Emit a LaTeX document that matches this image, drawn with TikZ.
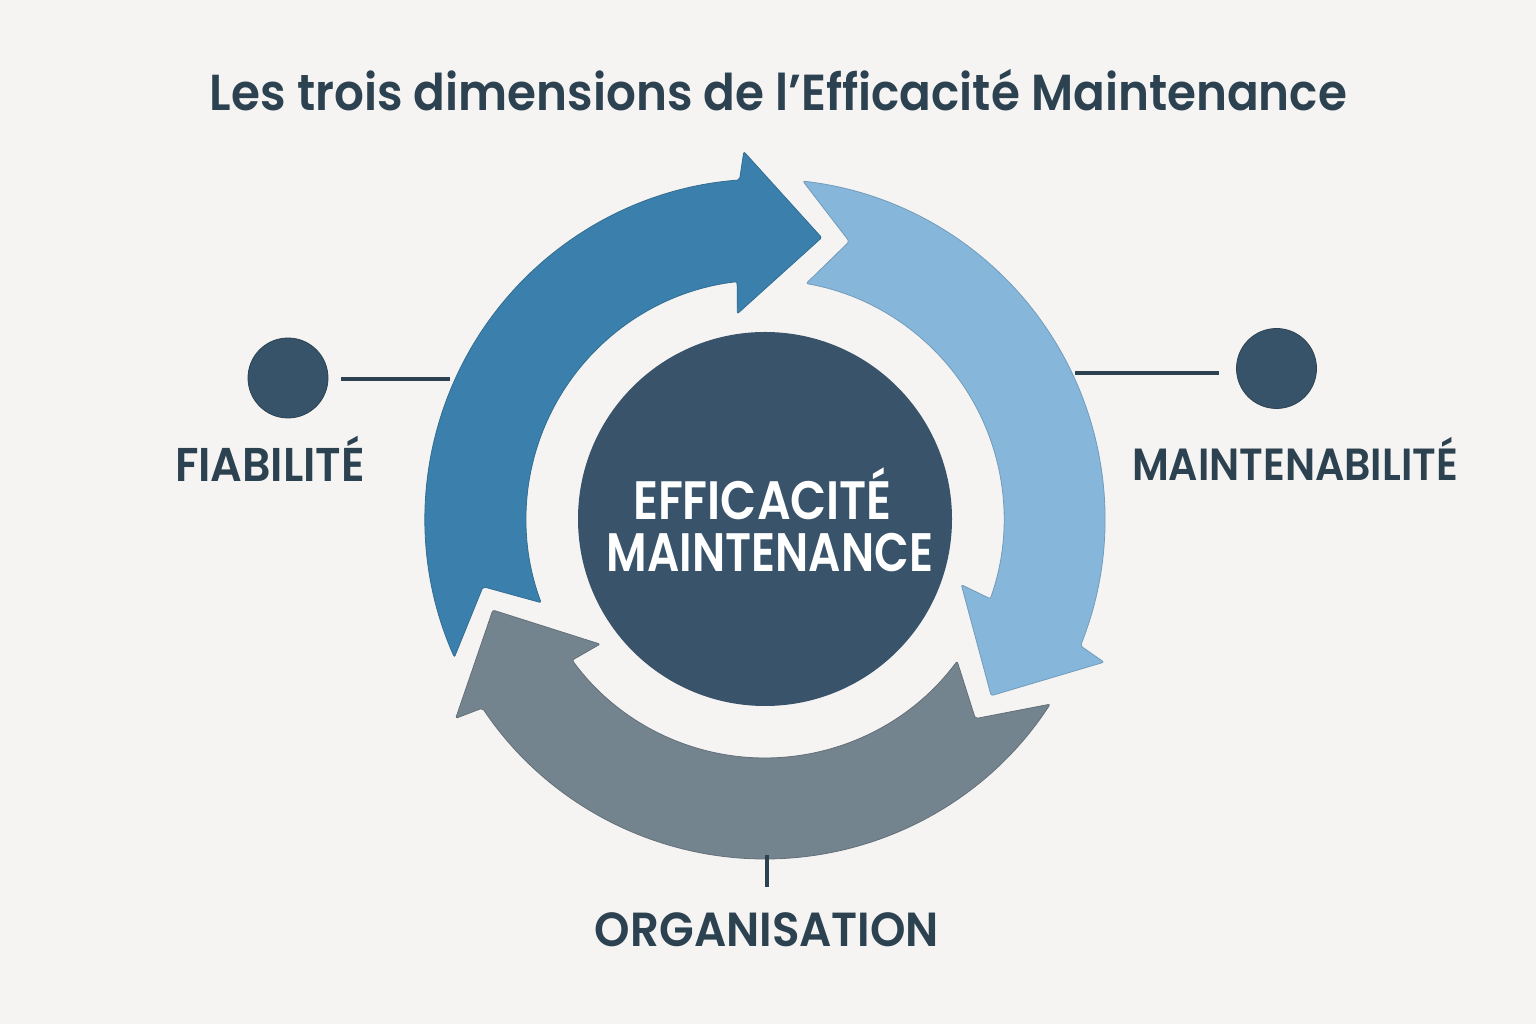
\documentclass[tikz,border=0pt]{standalone}
\usepackage{fontspec}
\setmainfont{Poppins}[UprightFont=* Medium, BoldFont=* SemiBold]
\usepackage{graphicx}
\definecolor{bgC}{HTML}{F5F4F2}
\definecolor{darkC}{HTML}{2C4251}
\definecolor{coreC}{HTML}{38536A}
\definecolor{blueC}{HTML}{3B80AC}
\definecolor{lightC}{HTML}{86B7DB}
\definecolor{grayC}{HTML}{74848F}
\definecolor{dotC}{HTML}{36536A}
% #1 width, #2 vertical stretch, #3 text
\newcommand\fitto[3]{\scalebox{1}[#2]{\resizebox{#1pt}{!}{\fontsize{50}{60}\selectfont #3}}}
% #1 tail angle, #2 head base angle, #3 tip angle, #4 colour
\newcommand\ringarrow[4]{%
  \filldraw[fill=#4, draw=#4!85!black, line width=0.8pt, rounded corners=2pt]
    (#1:340) arc[start angle=#1, end angle={#2-1.2}, radius=340]
    -- ({#2-2.2}:368) -- (#3:287) -- ({#2+2.2}:207) -- ({#2+1.2}:239)
    arc[start angle={#2+1.2}, end angle={#1-3.5}, radius=239]
    -- ({#1-10.5}:290) -- cycle;}
\tikzset{
  conn/.style={draw=darkC, line width=3.5pt},
  dotnode/.style={circle, fill=dotC, draw=darkC, line width=0.8pt, minimum size=80pt, inner sep=0pt},
  lbl/.style={text=darkC, anchor=base, inner sep=0pt},
}
\begin{document}
\begin{tikzpicture}[x=1pt,y=1pt]
\fill[bgC] (0,0) rectangle (1536,1024);
\useasboundingbox (0,0) rectangle (1536,1024);
% title
\node[lbl] (title) at (778.5,913) {\fitto{1137}{1.08}{\bfseries Les trois dimensions de l’Efficacité Maintenance}};
% ring arrows
\begin{scope}[shift={(765,505)}]
  \ringarrow{204}{95.5}{78.6}{blueC}
  \ringarrow{83.6}{-20.7}{-38}{lightC}
  \ringarrow{-33}{-145}{-161.5}{grayC}
\end{scope}
% core
\node[circle, fill=coreC, minimum size=374pt, inner sep=0pt] (core) at (765,505) {};
\node[lbl, text=white] (core1) at (762.5,504) {\fitto{259}{1.15}{\bfseries EFFICACITÉ}};
\node[lbl, text=white] (core2) at (770,452) {\fitto{326}{1.2}{\bfseries MAINTENANCE}};
% side dots
\node[dotnode] (fiabdot) at (288,646) {};
\node[dotnode] (maintdot) at (1276.5,655.5) {};
\coordinate (fiabA) at (341,645);
\coordinate (fiabB) at (450,645);
\coordinate (maintA) at (1075,651);
\coordinate (maintB) at (1219,651);
\coordinate (orgA) at (767,169);
\coordinate (orgB) at (767,137);
\draw[conn] (fiabA) -- (fiabB);
\draw[conn] (maintA) -- (maintB);
\draw[conn] (orgA) -- (orgB);
% labels
\node[lbl] (fiab) at (270,542) {\fitto{190}{1.07}{\bfseries FIABILITÉ}};
\node[lbl] (maint) at (1295,543) {\fitto{326}{1.1}{\bfseries MAINTENABILITÉ}};
\node[lbl] (org) at (767,77) {\fitto{344}{1.06}{\bfseries ORGANISATION}};
\end{tikzpicture}
\end{document}
